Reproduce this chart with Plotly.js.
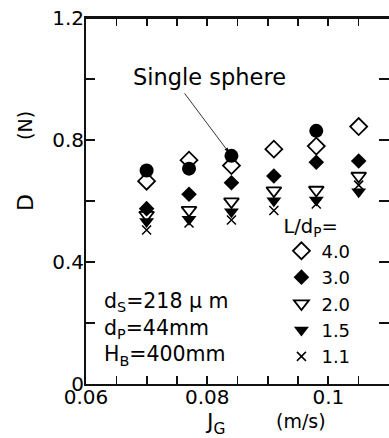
<!DOCTYPE html>
<html>
<head>
<meta charset="utf-8">
<script src="https://cdn.plot.ly/plotly-3.0.1.min.js"></script>
<style>html,body{margin:0;padding:0;background:#fff;}#chart{width:389px;height:438px;}</style>
</head>
<body>
<div id="chart"></div>
<script>
// Data
const JG = [0.070, 0.077, 0.084, 0.091, 0.098, 0.105];
const D_L40 = [0.665, 0.734, 0.716, 0.770, 0.780, 0.844];
const D_L30 = [0.575, 0.622, 0.660, 0.682, 0.727, 0.731];
const D_L20 = [0.554, 0.570, 0.598, 0.634, 0.636, 0.682];
const D_L15 = [0.533, 0.540, 0.565, 0.601, 0.603, 0.630];
const D_L11 = [0.505, 0.528, 0.538, 0.569, 0.590, 0.652];
const JG_sphere = [0.070, 0.077, 0.084, 0.098];
const D_sphere = [0.700, 0.706, 0.748, 0.830];
const seriesNames = ['4.0', '3.0', '2.0', '1.5', '1.1'];
const xTickVals = [0.06, 0.07, 0.08, 0.09, 0.10, 0.11];
const xTickText = ['0.06', '', '0.08', '', '0.1', ''];
const yTickVals = [0, 0.2, 0.4, 0.6, 0.8, 1.0, 1.2];
const yTickText = ['0', '', '0.4', '', '0.8', '', '1.2'];
const yRightTicks = [0.2, 0.4, 0.6, 0.8, 1.0];

const FONT = 'DejaVu Sans, Arial, sans-serif';
const black = '#000';
const ink = '#111';

const traces = [
  {x: JG_sphere, y: D_sphere, mode: 'markers', showlegend: false, name: 'Single sphere',
   marker: {symbol: 'circle', size: 14, color: black}},
  {x: JG, y: D_L40, mode: 'markers', name: seriesNames[0],
   marker: {symbol: 'diamond-open', size: 13, color: black, line: {width: 1.8, color: black}}},
  {x: JG, y: D_L30, mode: 'markers', name: seriesNames[1],
   marker: {symbol: 'diamond', size: 12, color: black}},
  {x: JG, y: D_L20, mode: 'markers', name: seriesNames[2],
   marker: {symbol: 'triangle-down-open', size: 13, color: black, line: {width: 1.8, color: black}}},
  {x: JG, y: D_L15, mode: 'markers', name: seriesNames[3],
   marker: {symbol: 'triangle-down', size: 13, color: black}},
  {x: JG, y: D_L11, mode: 'markers', name: seriesNames[4],
   marker: {symbol: 'x-thin-open', size: 9, color: black, line: {width: 1.5, color: black}}},
  // invisible helper trace so the right-side tick axis is drawn
  {x: JG, y: D_L40, yaxis: 'y2', mode: 'markers', showlegend: false, hoverinfo: 'skip',
   marker: {opacity: 0}}
];

const layout = {
  width: 389, height: 438,
  margin: {l: 86, r: 0, t: 18, b: 54, pad: 0},
  paper_bgcolor: '#fff', plot_bgcolor: '#fff',
  font: {family: FONT, size: 20, color: black},
  showlegend: true,
  legend: {
    x: 0.645, y: 0.483, xanchor: 'left', yanchor: 'top',
    bgcolor: 'rgba(0,0,0,0)', borderwidth: 0,
    font: {family: FONT, size: 18, color: black},
    title: {text: 'L/d<sub>P</sub>=', font: {family: FONT, size: 19.5, color: black}},
    itemwidth: 30, tracegroupgap: 0
  },
  xaxis: {
    range: [0.06, 0.11], showgrid: false, zeroline: false,
    showline: true, linecolor: ink, linewidth: 2, mirror: 'allticks',
    ticks: 'inside', ticklen: 8, tickwidth: 2, tickcolor: ink,
    tickmode: 'array', tickvals: xTickVals, ticktext: xTickText, ticklabelstandoff: -6,
    tickfont: {family: FONT, size: 20, color: black},
    minor: {tickmode: 'linear', tick0: 0.06, dtick: 0.005, ticks: 'inside', ticklen: 5, tickwidth: 1.5, tickcolor: ink, showgrid: false}
  },
  yaxis: {
    range: [0, 1.2], showgrid: false, zeroline: false,
    showline: true, linecolor: ink, linewidth: 2,
    ticks: 'inside', ticklen: 9, tickwidth: 2, tickcolor: ink,
    tickmode: 'array', tickvals: yTickVals, ticktext: yTickText, ticklabelstandoff: -4,
    tickfont: {family: FONT, size: 20, color: black}
  },
  yaxis2: {
    overlaying: 'y', side: 'right', range: [0, 1.2],
    showgrid: false, zeroline: false, showline: false,
    ticks: 'inside', ticklen: 10, tickwidth: 2, tickcolor: ink,
    tickmode: 'array', tickvals: yRightTicks, showticklabels: false
  },
  shapes: [
    {type: 'line', xref: 'paper', yref: 'paper', x0: 0, x1: 1, y0: 1, y1: 1,
     line: {color: ink, width: 2}}
  ],
  annotations: [
    {xref: 'paper', yref: 'paper', x: (209 - 86) / 303, y: (384 - 77) / 366, text: 'Single sphere',
     showarrow: false, xanchor: 'center', yanchor: 'middle', font: {family: FONT, size: 22.5, color: black}},
    {xref: 'x', yref: 'y', x: JG_sphere[2], y: D_sphere[2], text: '', showarrow: true,
     ax: -48, ay: -64, arrowhead: 2, arrowsize: 1, arrowwidth: 0.8, arrowcolor: black, standoff: 5},
    {xref: 'paper', yref: 'paper', x: (102 - 86) / 303, y: (384 - 329) / 366, xanchor: 'left', yanchor: 'middle',
     align: 'left', showarrow: false, font: {family: FONT, size: 20.5, color: black},
     text: 'd<sub>S</sub>=218 μ m<br>d<sub>P</sub>=44mm<br>H<sub>B</sub>=400mm'},
    {xref: 'paper', yref: 'paper', x: (25 - 86) / 303, y: (384 - 203) / 366, text: 'D', textangle: -90,
     showarrow: false, xanchor: 'center', yanchor: 'middle', font: {family: FONT, size: 22, color: black}},
    {xref: 'paper', yref: 'paper', x: (25 - 86) / 303, y: (384 - 126) / 366, text: '(N)', textangle: -90,
     showarrow: false, xanchor: 'center', yanchor: 'middle', font: {family: FONT, size: 19, color: black}},
    {xref: 'paper', yref: 'paper', x: (215 - 86) / 303, y: (384 - 424) / 366, text: 'J<sub>G</sub>',
     showarrow: false, xanchor: 'center', yanchor: 'middle', font: {family: FONT, size: 22, color: black}},
    {xref: 'paper', yref: 'paper', x: (301 - 86) / 303, y: (384 - 421) / 366, text: '(m/s)',
     showarrow: false, xanchor: 'center', yanchor: 'middle', font: {family: FONT, size: 19, color: black}}
  ]
};

Plotly.newPlot('chart', traces, layout, {displayModeBar: false, staticPlot: true});
</script>
</body>
</html>
